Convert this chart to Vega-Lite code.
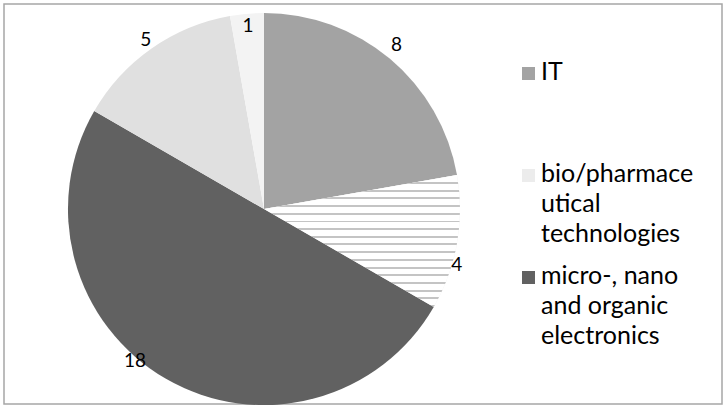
{
  "$schema": "https://vega.github.io/schema/vega-lite/v6.json",
  "width": 718,
  "height": 400,
  "padding": {"left": 4, "top": 4, "right": 4, "bottom": 1},
  "autosize": {"type": "none"},
  "background": "white",
  "view": {"stroke": "#a6a6a6", "strokeWidth": 1.5},
  "config": {
    "font": "Lato",
    "style": {"guide-label": {"lineHeight": 30, "dy": -14}}
  },
  "data": {
    "values": [
      {"field": "IT", "count": 8},
      {"field": "bio/pharmaceutical technologies", "count": 4},
      {"field": "micro-, nano and organic electronics", "count": 18},
      {"field": "new materials", "count": 5},
      {"field": "other", "count": 1}
    ]
  },
  "encoding": {
    "theta": {"field": "count", "type": "quantitative", "stack": true},
    "order": {"field": "field", "type": "nominal"}
  },
  "layer": [
    {
      "mark": {"type": "arc", "outerRadius": 196, "x": 260, "y": 205},
      "encoding": {
        "color": {
          "field": "field",
          "type": "nominal",
          "scale": {
            "domain": ["IT", "bio/pharmaceutical technologies", "micro-, nano and organic electronics", "new materials", "other"],
            "range": ["#a3a3a3", "#ececec", "#616161", "#e0e0e0", "#f3f3f3"]
          },
          "legend": {
            "title": null,
            "orient": "none",
            "legendX": 512,
            "legendY": 57,
            "padding": 0,
            "values": ["IT", "bio/pharmaceutical technologies", "micro-, nano and organic electronics"],
            "symbolType": "square",
            "symbolSize": 169,
            "symbolStrokeWidth": 0,
            "labelFont": "Lato",
            "labelFontSize": 25,
            "labelColor": "#000000",
            "labelLimit": 300,
            "labelOffset": 0,
            "labelBaseline": "top",
            "rowPadding": 16,
            "labelExpr": "datum.label == 'bio/pharmaceutical technologies' ? ['bio/pharmace', 'utical', 'technologies'] : datum.label == 'micro-, nano and organic electronics' ? ['micro-, nano', 'and organic', 'electronics'] : [datum.label, '', '']"
          }
        }
      }
    },
    {
      "mark": {"type": "arc", "outerRadius": 196, "x": 260, "y": 205},
      "encoding": {
        "fill": {
          "condition": {
            "test": "datum.field == 'bio/pharmaceutical technologies'",
            "value": {
              "gradient": "linear", "x1": 0, "y1": 0, "x2": 0, "y2": 1,
              "stops": [
                {"offset": 0, "color": "#ffffff"},
                {"offset": 0.053, "color": "#ffffff"}, {"offset": 0.053, "color": "#c4c4c4"}, {"offset": 0.068, "color": "#c4c4c4"}, {"offset": 0.068, "color": "#ffffff"},
                {"offset": 0.111, "color": "#ffffff"}, {"offset": 0.111, "color": "#c4c4c4"}, {"offset": 0.126, "color": "#c4c4c4"}, {"offset": 0.126, "color": "#ffffff"},
                {"offset": 0.170, "color": "#ffffff"}, {"offset": 0.170, "color": "#c4c4c4"}, {"offset": 0.185, "color": "#c4c4c4"}, {"offset": 0.185, "color": "#ffffff"},
                {"offset": 0.228, "color": "#ffffff"}, {"offset": 0.228, "color": "#c4c4c4"}, {"offset": 0.243, "color": "#c4c4c4"}, {"offset": 0.243, "color": "#ffffff"},
                {"offset": 0.286, "color": "#ffffff"}, {"offset": 0.286, "color": "#c4c4c4"}, {"offset": 0.301, "color": "#c4c4c4"}, {"offset": 0.301, "color": "#ffffff"},
                {"offset": 0.345, "color": "#ffffff"}, {"offset": 0.345, "color": "#c4c4c4"}, {"offset": 0.360, "color": "#c4c4c4"}, {"offset": 0.360, "color": "#ffffff"},
                {"offset": 0.403, "color": "#ffffff"}, {"offset": 0.403, "color": "#c4c4c4"}, {"offset": 0.418, "color": "#c4c4c4"}, {"offset": 0.418, "color": "#ffffff"},
                {"offset": 0.461, "color": "#ffffff"}, {"offset": 0.461, "color": "#c4c4c4"}, {"offset": 0.476, "color": "#c4c4c4"}, {"offset": 0.476, "color": "#ffffff"},
                {"offset": 0.519, "color": "#ffffff"}, {"offset": 0.519, "color": "#c4c4c4"}, {"offset": 0.534, "color": "#c4c4c4"}, {"offset": 0.534, "color": "#ffffff"},
                {"offset": 0.578, "color": "#ffffff"}, {"offset": 0.578, "color": "#c4c4c4"}, {"offset": 0.593, "color": "#c4c4c4"}, {"offset": 0.593, "color": "#ffffff"},
                {"offset": 0.636, "color": "#ffffff"}, {"offset": 0.636, "color": "#c4c4c4"}, {"offset": 0.651, "color": "#c4c4c4"}, {"offset": 0.651, "color": "#ffffff"},
                {"offset": 0.694, "color": "#ffffff"}, {"offset": 0.694, "color": "#c4c4c4"}, {"offset": 0.709, "color": "#c4c4c4"}, {"offset": 0.709, "color": "#ffffff"},
                {"offset": 0.753, "color": "#ffffff"}, {"offset": 0.753, "color": "#c4c4c4"}, {"offset": 0.768, "color": "#c4c4c4"}, {"offset": 0.768, "color": "#ffffff"},
                {"offset": 0.811, "color": "#ffffff"}, {"offset": 0.811, "color": "#c4c4c4"}, {"offset": 0.826, "color": "#c4c4c4"}, {"offset": 0.826, "color": "#ffffff"},
                {"offset": 0.869, "color": "#ffffff"}, {"offset": 0.869, "color": "#c4c4c4"}, {"offset": 0.884, "color": "#c4c4c4"}, {"offset": 0.884, "color": "#ffffff"},
                {"offset": 0.928, "color": "#ffffff"}, {"offset": 0.928, "color": "#c4c4c4"}, {"offset": 0.943, "color": "#c4c4c4"}, {"offset": 0.943, "color": "#ffffff"},
                {"offset": 0.986, "color": "#ffffff"}, {"offset": 0.986, "color": "#c4c4c4"}, {"offset": 1, "color": "#c4c4c4"}
              ]
            }
          },
          "value": "transparent"
        }
      }
    },
    {
      "mark": {
        "type": "text",
        "radius": {"expr": "datum.count < 2 ? 184 : 206"},
        "dx": {"expr": "datum.count == 18 ? -26 : datum.count == 4 ? -10 : 0"},
        "dy": {"expr": "datum.count == 18 ? -26 : datum.count == 4 ? 20 : datum.count == 8 ? -6 : 0"},
        "x": 260,
        "y": 205,
        "fontSize": 19,
        "font": "Lato",
        "color": "#000000"
      },
      "encoding": {
        "detail": {"field": "field", "type": "nominal"},
        "text": {"field": "count", "type": "quantitative"}
      }
    }
  ]
}
